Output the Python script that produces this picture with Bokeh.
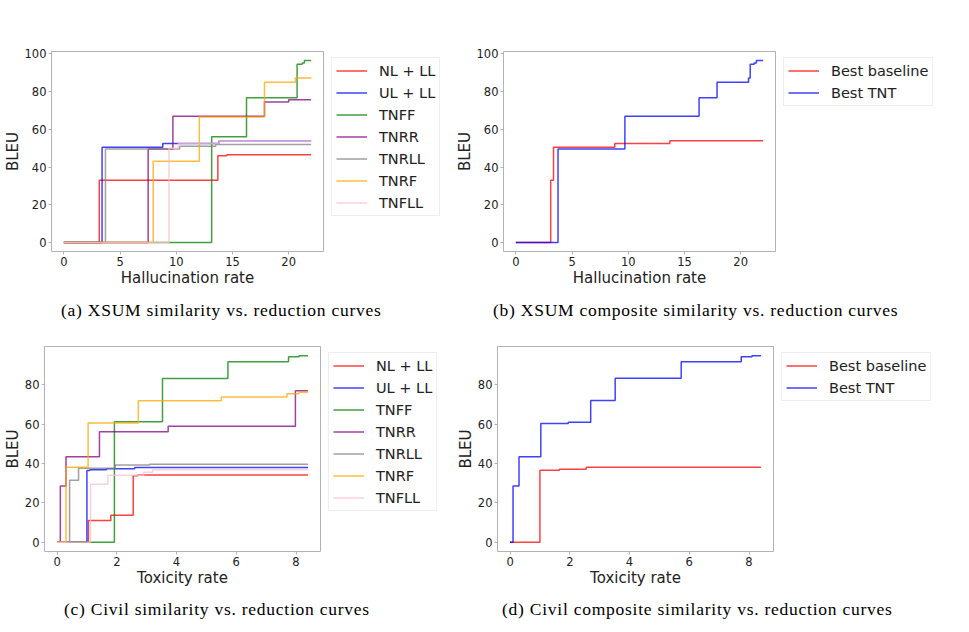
from bokeh.plotting import figure
from bokeh.models import Range1d, FixedTicker, Legend, LegendItem, Div
from bokeh.layouts import column, row
from bokeh.embed import file_html
from bokeh.resources import INLINE

# ---------------- data ----------------
series_names = ["NL + LL", "UL + LL", "TNFF", "TNRR", "TNRLL", "TNRF", "TNFLL"]
series_colors = ["red", "blue", "green", "purple", "gray", "orange", "pink"]

# XSUM (hallucination rate -> BLEU)
xsum_x = [
    [0, 3.15, 13.7, 14.5, 22],
    [0, 3.4, 8.8, 13.8, 22],
    [0, 13.15, 16.25, 20.75, 21.2, 21.4, 22],
    [0, 7.5, 9.7, 17.85, 20.0, 22],
    [0, 3.7, 10.3, 13.5, 22],
    [0, 7.95, 12.05, 17.85, 20.6, 22],
    [0, 9.35, 10.2, 13.8, 22],
]
xsum_y = [
    [0, 33, 46, 46.5, 46.5],
    [0, 50.5, 52.5, 54, 54],
    [0, 56, 76.8, 94.5, 95.2, 96.5, 96.5],
    [0, 49.5, 67, 74.5, 75.7, 75.7],
    [0, 49.5, 51, 52, 52],
    [0, 43, 66.5, 85, 87.3, 87.3],
    [0, 50, 52.5, 54, 54],
]

comp_names = ["Best baseline", "Best TNT"]
comp_colors = ["red", "blue"]
xsum_comp_x = [
    [0, 3.1, 3.35, 8.8, 13.7, 22],
    [0, 3.75, 9.7, 16.3, 17.9, 20.7, 20.85, 21.2, 21.4, 22],
]
xsum_comp_y = [
    [0, 33, 50.5, 52.5, 54, 54],
    [0, 49.5, 67, 76.8, 85, 87.3, 94.6, 95.2, 96.5, 96.5],
]

# Civil (toxicity rate -> BLEU)
civil_x = [
    [0, 1.05, 1.8, 2.55, 2.7, 8.4],
    [0, 1.0, 1.1, 1.65, 2.6, 8.4],
    [0, 1.92, 3.53, 5.72, 7.75, 8.1, 8.4],
    [0, 0.11, 0.3, 1.42, 3.72, 7.98, 8.4],
    [0, 0.42, 0.72, 1.95, 3.1, 8.4],
    [0, 0.3, 1.04, 2.72, 5.5, 7.7, 8.1, 8.4],
    [0, 1.12, 1.7, 2.9, 3.2, 8.4],
]
civil_y = [
    [0, 11, 13.7, 33.8, 34.2, 34.2],
    [0, 36.5, 36.8, 37.3, 38, 38],
    [0, 61.2, 83.2, 91.8, 94.3, 94.8, 94.8],
    [0, 28.6, 43.4, 56.2, 59, 77, 77],
    [0, 31.5, 37.6, 39.3, 39.6, 39.6],
    [0, 38.1, 60.6, 71.9, 73.8, 75.5, 76.2, 76.2],
    [0, 29.4, 34, 35.5, 36.8, 36.8],
]
civil_comp_x = [
    [0, 1.0, 1.65, 2.55, 8.4],
    [0, 0.1, 0.3, 1.03, 1.95, 2.7, 3.52, 5.73, 7.74, 8.1, 8.4],
]
civil_comp_y = [
    [0, 36.6, 37.1, 38.1, 38.1],
    [0, 28.6, 43.4, 60.3, 61, 72, 83.3, 91.7, 94.3, 94.8, 94.8],
]

xsum_ticks = [0, 5, 10, 15, 20]
civil_ticks = [0, 2, 4, 6, 8]
bleu_ticks = [0, 20, 40, 60, 80, 100]

captions = [
    "(a) XSUM similarity vs. reduction curves",
    "(b) XSUM composite similarity vs. reduction curves",
    "(c) Civil similarity vs. reduction curves",
    "(d) Civil composite similarity vs. reduction curves",
]

SPINE = "#b3b3b3"
TXT = "#222222"
LINE_W = 1.5
LINE_A = 0.75


def make_fig(width, height, left, top, bottom, xr, yr, xticks, xlabel, xs, ys, colors):
    p = figure(width=width, height=height,
               x_range=Range1d(*xr), y_range=Range1d(*yr),
               output_backend="svg", toolbar_location=None,
               min_border_left=left, min_border_right=2,
               min_border_top=top, min_border_bottom=bottom)
    p.xgrid.visible = False
    p.ygrid.visible = False
    p.outline_line_color = SPINE
    p.outline_line_width = 1
    p.outline_line_alpha = 1
    p.background_fill_color = "white"
    p.border_fill_color = "white"
    for ax in (p.xaxis[0], p.yaxis[0]):
        ax.axis_line_color = None
        ax.major_tick_line_color = SPINE
        ax.major_tick_out = 3
        ax.major_tick_in = 0
        ax.minor_tick_line_color = None
        ax.major_label_text_font = "DejaVu Sans"
        ax.major_label_text_font_size = "11.5px"
        ax.major_label_text_color = TXT
        ax.major_label_standoff = 2
        ax.axis_label_text_font = "DejaVu Sans"
        ax.axis_label_text_font_size = "15px"
        ax.axis_label_text_font_style = "normal"
        ax.axis_label_text_color = TXT
        ax.axis_label_standoff = 0
    p.xaxis[0].ticker = FixedTicker(ticks=xticks)
    p.yaxis[0].ticker = FixedTicker(ticks=bleu_ticks)
    p.xaxis[0].axis_label = xlabel
    p.yaxis[0].axis_label = "BLEU"
    for x, y, c in zip(xs, ys, colors):
        p.step(x, y, mode="after", line_color=c, line_width=LINE_W, line_alpha=LINE_A)
    return p


def make_legend(width, height, top, names, colors, xs, ys):
    # legend panel: the same series are attached, but the view range keeps them out of sight
    q = figure(width=width, height=height, x_range=Range1d(-200, -199), y_range=Range1d(-200, -199),
               output_backend="svg", toolbar_location=None,
               x_axis_location=None, y_axis_location=None, min_border=0)
    q.min_border_top = top
    q.xgrid.visible = False
    q.ygrid.visible = False
    q.outline_line_color = None
    q.background_fill_color = "white"
    q.border_fill_color = "white"
    items = []
    for n, c, x, y in zip(names, colors, xs, ys):
        r = q.step(x, y, mode="after", line_color=c, line_width=LINE_W, line_alpha=LINE_A)
        items.append(LegendItem(label=n, renderers=[r]))
    leg = Legend(items=items, location="top_left")
    leg.margin = 6
    leg.padding = 4
    leg.spacing = 5
    leg.glyph_width = 31
    leg.glyph_height = 17
    leg.label_height = 17
    leg.label_standoff = 12
    leg.label_text_font = "DejaVu Sans"
    leg.label_text_font_size = "14.5px"
    leg.label_text_color = TXT
    leg.border_line_color = "#dddddd"
    leg.border_line_width = 1
    leg.background_fill_color = "white"
    leg.background_fill_alpha = 1
    q.add_layout(leg)
    return q


fig_a = make_fig(325, 293, 46, 51, 42, (-1.1, 23.1), (-4.83, 101.3), xsum_ticks,
                 "Hallucination rate", xsum_x, xsum_y, series_colors)
leg_a = make_legend(127, 293, 51, series_names, series_colors, xsum_x, xsum_y)
fig_b = make_fig(325, 293, 49, 51, 42, (-1.1, 23.1), (-4.83, 101.3), xsum_ticks,
                 "Hallucination rate", xsum_comp_x, xsum_comp_y, comp_colors)
leg_b = make_legend(165, 293, 51, comp_names, comp_colors, xsum_comp_x, xsum_comp_y)

fig_c = make_fig(322, 266, 39, 18, 42, (-0.42, 8.82), (-4.74, 99.5), civil_ticks,
                 "Toxicity rate", civil_x, civil_y, series_colors)
leg_c = make_legend(131, 266, 19, series_names, series_colors, civil_x, civil_y)
fig_d = make_fig(322, 266, 40, 19, 41, (-0.42, 8.82), (-4.74, 99.5), civil_ticks,
                 "Toxicity rate", civil_comp_x, civil_comp_y, comp_colors)
leg_d = make_legend(168, 266, 19, comp_names, comp_colors, civil_comp_x, civil_comp_y)


def cap(text, width, height, pad):
    return Div(text=text, width=width, height=height, margin=(0, 0, 0, 0),
               styles={"font-family": "'Liberation Serif', serif",
                       "font-size": "17.5px", "letter-spacing": "0.75px",
                       "color": "black", "text-align": "left",
                       "padding-left": f"{pad}px", "box-sizing": "border-box",
                       "line-height": f"{height}px", "white-space": "nowrap"})


cap_a = cap(captions[0], 441, 34, 61)
cap_b = cap(captions[1], 500, 34, 52)
cap_c = cap(captions[2], 441, 32, 64)
cap_d = cap(captions[3], 500, 32, 61)

layout = column(row(fig_a, leg_a, fig_b, leg_b), row(cap_a, cap_b),
                row(fig_c, leg_c, fig_d, leg_d), row(cap_c, cap_d))

open("out.html", "w").write(file_html(layout, INLINE))
